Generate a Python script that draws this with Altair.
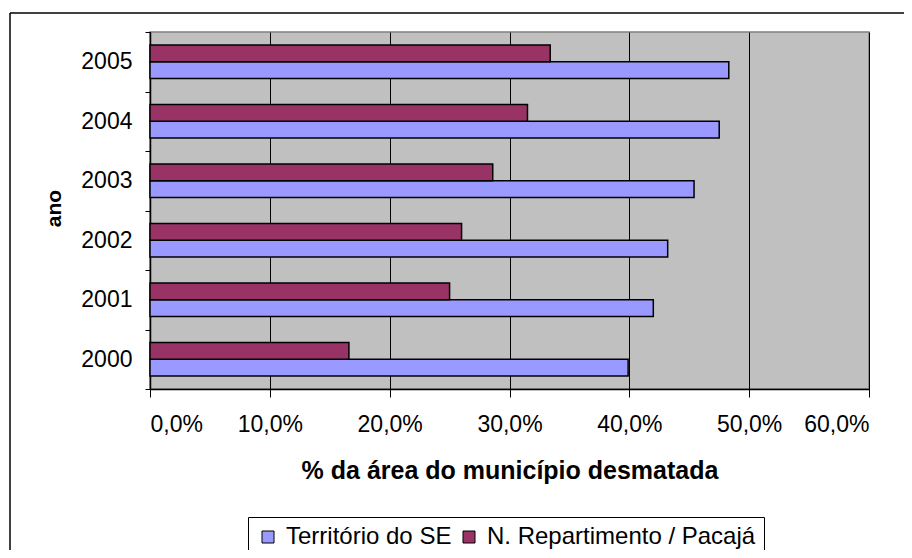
import altair as alt
import pandas as pd

years = ["2000", "2001", "2002", "2003", "2004", "2005"]
territorio = [39.9, 42.0, 43.2, 45.4, 47.5, 48.3]
repartimento = [16.6, 25.0, 26.0, 28.6, 31.5, 33.4]
series = ["Território do SE", "N. Repartimento / Pacajá"]
colors = ["#9999FF", "#993366"]
x_ticks = [0, 0.1, 0.2, 0.3, 0.4, 0.5, 0.6]

rows = []
for y, t, r in zip(years, territorio, repartimento):
    rows.append({"ano": y, "serie": series[0], "valor": t / 100})
    rows.append({"ano": y, "serie": series[1], "valor": r / 100})
df = pd.DataFrame(rows)

FONT = "Liberation Sans"

bars = alt.Chart(df).mark_bar(stroke="black", strokeWidth=1.5).encode(
    x=alt.X(
        "valor:Q",
        scale=alt.Scale(domain=[0, 0.6], nice=False),
        axis=alt.Axis(
            values=x_ticks,
            labelExpr="replace(format(datum.value, '.1%'), '.', ',')",
            title="% da área do município desmatada",
            titleFontSize=25,
            titleFontWeight="bold",
            titleY=89,
            titleBaseline="alphabetic",
            labelFontSize=23,
            labelPadding=16,
            tickSize=8,
            tickColor="black",
            domainColor="black",
            domainWidth=1.5,
            grid=True,
            gridColor="black",
            gridWidth=1,
            labelColor="black",
            titleColor="black",
        ),
    ),
    y=alt.Y(
        "ano:N",
        sort=list(reversed(years)),
        scale=alt.Scale(paddingInner=0, paddingOuter=0),
        axis=alt.Axis(
            title="ano",
            titleFontSize=21,
            titleFontWeight="bold",
            titleX=-96,
            titleY=176,
            titleAngle=-90,
            titleAlign="center",
            titleBaseline="middle",
            labelFontSize=23,
            labelPadding=13,
            tickSize=5,
            tickBand="extent",
            tickColor="black",
            domainColor="black",
            domainWidth=1.5,
            labelColor="black",
            titleColor="black",
        ),
    ),
    yOffset=alt.YOffset(
        "serie:N",
        sort=list(reversed(series)),
        scale=alt.Scale(paddingInner=0, paddingOuter=0.78),
    ),
    color=alt.Color(
        "serie:N",
        scale=alt.Scale(domain=series, range=colors),
        legend=alt.Legend(
            title=None,
            orient="none",
            legendX=98,
            legendY=485,
            direction="horizontal",
            labelFontSize=24,
            labelColor="black",
            labelLimit=0,
            symbolType="square",
            symbolSize=144,
            symbolStrokeColor="black",
            symbolStrokeWidth=1,
            symbolOpacity=1,
            labelOffset=6,
            columnPadding=5,
            padding=8,
            strokeColor="black",
            fillColor="white",
        ),
    ),
)

frame_data = alt.Data(values=[{"f": 1}])
frame_left = alt.Chart(frame_data).mark_rule(color="black", strokeWidth=1.5).encode(
    x=alt.value(-140), y=alt.value(-19), y2=alt.value(560)
)
frame_top = alt.Chart(frame_data).mark_rule(color="black", strokeWidth=1.5).encode(
    x=alt.value(-140), x2=alt.value(800), y=alt.value(-19)
)

chart = alt.layer(frame_left, frame_top, bars).properties(
    width=719,
    height=357,
    padding={"left": 142, "top": 24, "right": 35, "bottom": 161},
    autosize=alt.AutoSizeParams(type="none"),
    background="white",
).configure(font=FONT).configure_view(
    fill="#C0C0C0", stroke="#808080", strokeWidth=1.5
)

chart.save("out.html", embed_options={"renderer": "svg", "actions": False})
